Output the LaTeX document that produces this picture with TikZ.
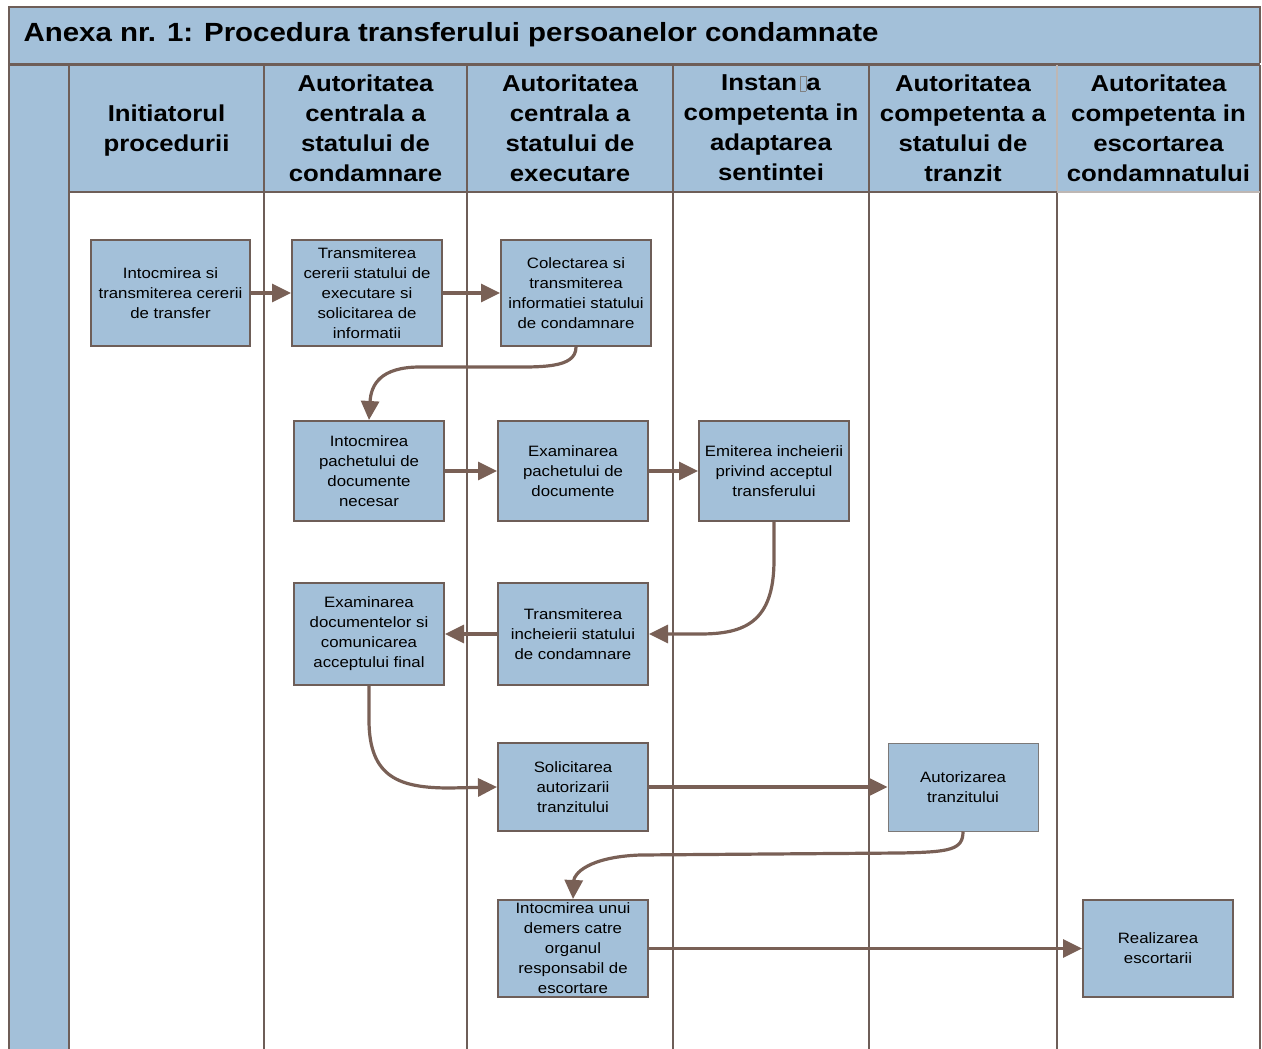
\documentclass[tikz,border=0pt]{standalone}
\usepackage{fontspec}
\setmainfont{Liberation Sans}[FakeStretch=1.12]
\usetikzlibrary{arrows.meta}

\definecolor{laneblue}{RGB}{163,192,217}
\definecolor{frameline}{RGB}{110,94,88}
\definecolor{flowline}{RGB}{121,96,86}

\newcommand{\missingglyph}{\hspace{3pt}{\color{gray}\setlength\fboxsep{0pt}\setlength\fboxrule{0.7pt}\fbox{\rule{0pt}{14pt}\hspace{5pt}}}}

\tikzset{
  procbox/.style={draw=frameline, line width=2pt, fill=laneblue, minimum width=150pt,
    align=center, inner sep=0pt, font=\fontsize{15}{20}\selectfont},
  lanehead/.style={align=center, font=\bfseries\fontsize{23}{30}\selectfont},
  flow/.style={draw=flowline, line width=3.2pt, -{Triangle[length=19pt,width=18pt]}},
  laneline/.style={draw=frameline, line width=2pt}
}

\begin{document}
\begin{tikzpicture}[x=1pt,y=-1pt]
\useasboundingbox (0,0) rectangle (1262,1049);

% title bar, header row and left strip
\fill[laneblue] (9,7) rectangle (1260,63);
\fill[laneblue] (9,65) rectangle (69,1049);
\fill[laneblue] (69,65) rectangle (1260,192);
\draw[frameline, line width=2.5pt] (9,1049) -- (9,7) -- (1260,7) -- (1260,63);
\draw[frameline, line width=3pt] (9,64.5) -- (1260,64.5);
\draw[frameline, line width=1.5pt] (1260,65) -- (1260,1049);

% lane separators
\foreach \x in {69,264,467,673,869}
  \draw[laneline] (\x,65) -- (\x,1049);
\draw[laneline] (1057,192) -- (1057,1049);
\draw[frameline!45, line width=1.5pt] (1057,65) -- (1057,192);
\draw[frameline, line width=1.8pt] (69,192) -- (1057,192);
\draw[frameline!45, line width=1.5pt] (1057,192) -- (1260,192);

\node[anchor=west, font=\bfseries\fontsize{26.3}{30}\selectfont] (title) at (20,35)
  {Anexa nr. 1: Procedura transferului persoanelor condamnate};

% lane headers
\node[lanehead] (h1) at (166.5,131) {Initiatorul\\procedurii};
\node[lanehead] (h2) at (365.5,128) {Autoritatea\\centrala a\\statului de\\condamnare};
\node[lanehead] (h3) at (570,128) {Autoritatea\\centrala a\\statului de\\executare};
\node[lanehead] (h4) at (771,128) {Instan\missingglyph a\\competenta in\\adaptarea\\sentintei};
\node[lanehead] (h5) at (963,128) {Autoritatea\\competenta a\\statului de\\tranzit};
\node[lanehead] (h6) at (1158.5,128) {Autoritatea\\competenta in\\escortarea\\condamnatului};

% process steps
\node[procbox, minimum width=159pt, minimum height=106pt] (n1) at (170.5,293)
  {Intocmirea si\\transmiterea cererii\\de transfer};
\node[procbox, minimum height=106pt] (n2) at (367,293)
  {Transmiterea\\cererii statului de\\executare si\\solicitarea de\\informatii};
\node[procbox, minimum height=106pt] (n3) at (576,293)
  {Colectarea si\\transmiterea\\informatiei statului\\de condamnare};
\node[procbox, minimum height=100pt] (n4) at (369,471)
  {Intocmirea\\pachetului de\\documente\\necesar};
\node[procbox, minimum height=100pt] (n5) at (573,471)
  {Examinarea\\pachetului de\\documente};
\node[procbox, minimum height=100pt] (n6) at (774,471)
  {Emiterea incheierii\\privind acceptul\\transferului};
\node[procbox, minimum height=102pt] (n7) at (369,634)
  {Examinarea\\documentelor si\\comunicarea\\acceptului final};
\node[procbox, minimum height=102pt] (n8) at (573,634)
  {Transmiterea\\incheierii statului\\de condamnare};
\node[procbox, minimum height=88pt] (n9) at (573,787)
  {Solicitarea\\autorizarii\\tranzitului};
\node[procbox, draw=gray!80!frameline, line width=1pt, minimum height=88pt] (n10) at (963,787)
  {Autorizarea\\tranzitului};
\node[procbox, minimum height=97pt] (n11) at (573,948.5)
  {Intocmirea unui\\demers catre\\organul\\responsabil de\\escortare};
\node[procbox, minimum height=97pt] (n12) at (1158,948.5)
  {Realizarea\\escortarii};

% connectors
\draw[flow] (n1.east) -- (n2.west);
\draw[flow] (n2.east) -- (n3.west);
\draw[flow] (n3.south) .. controls +(0,22) and (540,367) .. (500,367)
  -- (420,367) .. controls (380,367) and (371,385) .. (n4.north);
\draw[flow] (n4.east) -- (n5.west);
\draw[flow] (n5.east) -- (n6.west);
\draw[flow] (n6.south) -- (774,560) .. controls (774,622) and (745,634) .. (700,634) -- (n8.east);
\draw[flow] (n8.west) -- (n7.west -| n7.east);
\draw[flow] (n7.south) -- (369,720) .. controls (369,778) and (400,788) .. (450,788) -- (n9.west);
\draw[flow] (n9.east) -- (n10.west);
\draw[flow] (n10.south) .. controls (963,850) and (950,852) .. (900,853)
  -- (640,855) .. controls (588,857) and (574,874) .. (n11.north);
\draw[flow] (n11.east) -- (n12.west);
\end{tikzpicture}
\end{document}
